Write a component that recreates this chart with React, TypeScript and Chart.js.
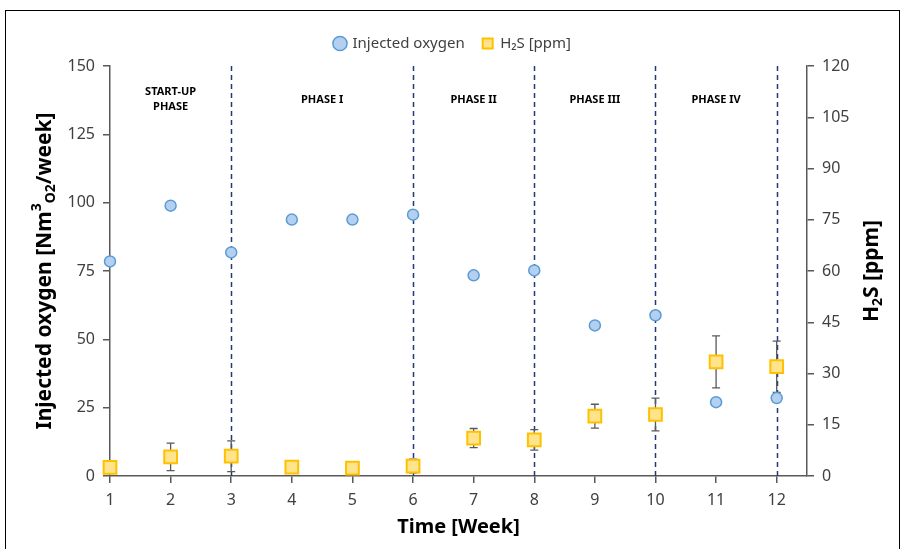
import React, { useEffect, useRef } from "react";
import { Chart, registerables } from "chart.js";

Chart.register(...registerables);

const weeks = [1, 2, 3, 4, 5, 6, 7, 8, 9, 10, 11, 12];
const injectedOxygen = [78.5, 98.9, 81.8, 93.8, 93.8, 95.6, 73.4, 75.2, 55.1, 58.8, 27.0, 28.5];
const h2sPpm = [2.5, 5.6, 5.8, 2.6, 2.3, 2.9, 11.1, 10.6, 17.5, 18.0, 33.4, 32.0];
const h2sError = [0, 4.0, 4.5, 0, 1.2, 2.0, 2.8, 3.0, 3.5, 4.8, 7.6, 7.5];
const phaseBoundaries = [3, 6, 8, 10, 12];
const phaseLabels = [
  { x: 2, lines: ["START-UP", "PHASE"] },
  { x: 4.5, lines: ["PHASE I"] },
  { x: 7, lines: ["PHASE II"] },
  { x: 9, lines: ["PHASE III"] },
  { x: 11, lines: ["PHASE IV"] },
];
const leftTicks = [0, 25, 50, 75, 100, 125, 150];
const rightTicks = [0, 15, 30, 45, 60, 75, 90, 105, 120];

const FONT = "'Noto Sans', 'Open Sans', sans-serif";

const overlayPlugin = {
  id: "overlay",
  beforeLayout(chart: any) {
    const lg = chart.legend;
    if (lg && !lg.__patched) {
      const orig = lg.fit;
      lg.fit = function () {
        orig.call(this);
        this.height += 5;
      };
      lg.__patched = true;
    }
  },
  beforeDraw(chart: any) {
    const ctx = chart.ctx;
    ctx.save();
    ctx.fillStyle = "#ffffff";
    ctx.fillRect(0, 0, chart.width, chart.height);
    ctx.strokeStyle = "#000";
    ctx.lineWidth = 1;
    ctx.strokeRect(5.5, 10.5, 894, 560);
    ctx.restore();
  },
  beforeDatasetsDraw(chart: any) {
    const ctx = chart.ctx;
    const xs = chart.scales.x;
    const y1 = chart.scales.y1;
    const area = chart.chartArea;
    ctx.save();
    ctx.strokeStyle = "#1f3a7a";
    ctx.lineWidth = 1.5;
    ctx.setLineDash([5, 4]);
    phaseBoundaries.forEach((b) => {
      const px = Math.round(xs.getPixelForValue(b)) + 0.5;
      ctx.beginPath();
      ctx.moveTo(px, area.top);
      ctx.lineTo(px, area.bottom);
      ctx.stroke();
    });
    ctx.setLineDash([]);
    ctx.fillStyle = "#000";
    ctx.font = `bold 11px ${FONT}`;
    ctx.textAlign = "center";
    ctx.textBaseline = "middle";
    phaseLabels.forEach((p) => {
      const px = xs.getPixelForValue(p.x);
      if (p.lines.length === 2) {
        ctx.fillText(p.lines[0], px, 92);
        ctx.fillText(p.lines[1], px, 107);
      } else {
        ctx.fillText(p.lines[0], px, 100);
      }
    });
    ctx.strokeStyle = "#595959";
    ctx.lineWidth = 1.3;
    weeks.forEach((w, i) => {
      const e = h2sError[i];
      if (!e) return;
      const px = xs.getPixelForValue(w);
      const top = y1.getPixelForValue(h2sPpm[i] + e);
      const bot = y1.getPixelForValue(h2sPpm[i] - e);
      ctx.beginPath();
      ctx.moveTo(px, top);
      ctx.lineTo(px, bot);
      ctx.moveTo(px - 4, top);
      ctx.lineTo(px + 4, top);
      ctx.moveTo(px - 4, bot);
      ctx.lineTo(px + 4, bot);
      ctx.stroke();
    });
    ctx.restore();
  },
  afterDraw(chart: any) {
    const ctx = chart.ctx;
    const area = chart.chartArea;
    const cy = (area.top + area.bottom) / 2;
    ctx.save();
    ctx.fillStyle = "#000";
    ctx.textBaseline = "middle";
    const drawRich = (parts: { t: string; s: number; dy: number }[], cx: number, cyy: number) => {
      let total = 0;
      parts.forEach((p) => {
        ctx.font = `bold ${p.s}px ${FONT}`;
        total += ctx.measureText(p.t).width;
      });
      ctx.save();
      ctx.translate(cx, cyy);
      ctx.rotate(-Math.PI / 2);
      let x = -total / 2;
      ctx.textAlign = "left";
      parts.forEach((p) => {
        ctx.font = `bold ${p.s}px ${FONT}`;
        ctx.fillText(p.t, x, p.dy);
        x += ctx.measureText(p.t).width;
      });
      ctx.restore();
    };
    drawRich(
      [
        { t: "Injected oxygen [Nm", s: 21, dy: 0 },
        { t: "3", s: 14, dy: -8 },
        { t: "O2", s: 14, dy: 6 },
        { t: "/week]", s: 21, dy: 0 },
      ],
      45,
      cy
    );
    drawRich(
      [
        { t: "H", s: 21, dy: 0 },
        { t: "2", s: 14, dy: 6 },
        { t: "S [ppm]", s: 21, dy: 0 },
      ],
      872,
      cy
    );
    ctx.restore();
  },
};

export default function App() {
  const ref = useRef<HTMLCanvasElement | null>(null);
  useEffect(() => {
    if (!ref.current) return;
    const axisColor = "#595959";
    const tickFont = { family: FONT, size: 16 };
    const chart = new Chart(ref.current, {
      type: "scatter",
      data: {
        datasets: [
          {
            label: "Injected oxygen",
            data: weeks.map((w, i) => ({ x: w, y: injectedOxygen[i] })),
            yAxisID: "y",
            pointStyle: "circle",
            pointRadius: 5.5,
            pointBorderWidth: 1.5,
            backgroundColor: "#b4d0f0",
            borderColor: "#5b9bd5",
            clip: false,
          },
          {
            label: "H\u2082S [ppm]",
            data: weeks.map((w, i) => ({ x: w, y: h2sPpm[i] })),
            yAxisID: "y1",
            pointStyle: "rect",
            pointRadius: 9,
            pointBorderWidth: 2,
            backgroundColor: "#ffe48c",
            borderColor: "#ffc000",
            clip: false,
          },
        ],
      },
      options: {
        animation: false,
        responsive: false,
        layout: { padding: { top: 18, left: 0, right: 0, bottom: 0 } },
        plugins: {
          legend: {
            position: "top",
            labels: {
              usePointStyle: true,
              boxWidth: 10,
              boxHeight: 10,
              padding: 18,
              color: "#404040",
              font: { family: FONT, size: 15 },
            },
          },
          tooltip: { enabled: false },
        },
        scales: {
          x: {
            type: "linear",
            min: 1,
            max: 12.5,
            afterBuildTicks: (s: any) => {
              s.ticks = weeks.map((v) => ({ value: v }));
            },
            afterFit: (s: any) => {
              s.height = 73;
            },
            border: { display: true, color: axisColor, width: 1.5 },
            grid: { drawOnChartArea: false, drawTicks: true, tickLength: 7, color: axisColor, lineWidth: 1.5 },
            ticks: { color: "#404040", font: tickFont, padding: 8, maxRotation: 0 },
            title: {
              display: true,
              text: "Time [Week]",
              color: "#000",
              font: { family: FONT, size: 20, weight: "bold" },
              padding: { top: 0, bottom: 10 },
            },
          },
          y: {
            position: "left",
            min: 0,
            max: 150,
            afterBuildTicks: (s: any) => {
              s.ticks = leftTicks.map((v) => ({ value: v }));
            },
            afterFit: (s: any) => {
              s.width = 110;
            },
            border: { display: true, color: axisColor, width: 1.5 },
            grid: { drawOnChartArea: false, drawTicks: true, tickLength: 7, color: axisColor, lineWidth: 1.5 },
            ticks: { color: "#404040", font: tickFont, padding: 8 },
          },
          y1: {
            position: "right",
            min: 0,
            max: 120,
            afterBuildTicks: (s: any) => {
              s.ticks = rightTicks.map((v) => ({ value: v }));
            },
            afterFit: (s: any) => {
              s.width = 99;
            },
            border: { display: true, color: axisColor, width: 1.5 },
            grid: { drawOnChartArea: false, drawTicks: true, tickLength: 7, color: axisColor, lineWidth: 1.5 },
            ticks: { color: "#404040", font: tickFont, padding: 8 },
          },
        },
      },
      plugins: [overlayPlugin],
    } as any);
    return () => chart.destroy();
  }, []);
  return (
    <div style={{ position: "absolute", left: 0, top: 0, width: 906, height: 549 }}>
      <canvas ref={ref} width={906} height={549} style={{ display: "block" }} />
    </div>
  );
}
